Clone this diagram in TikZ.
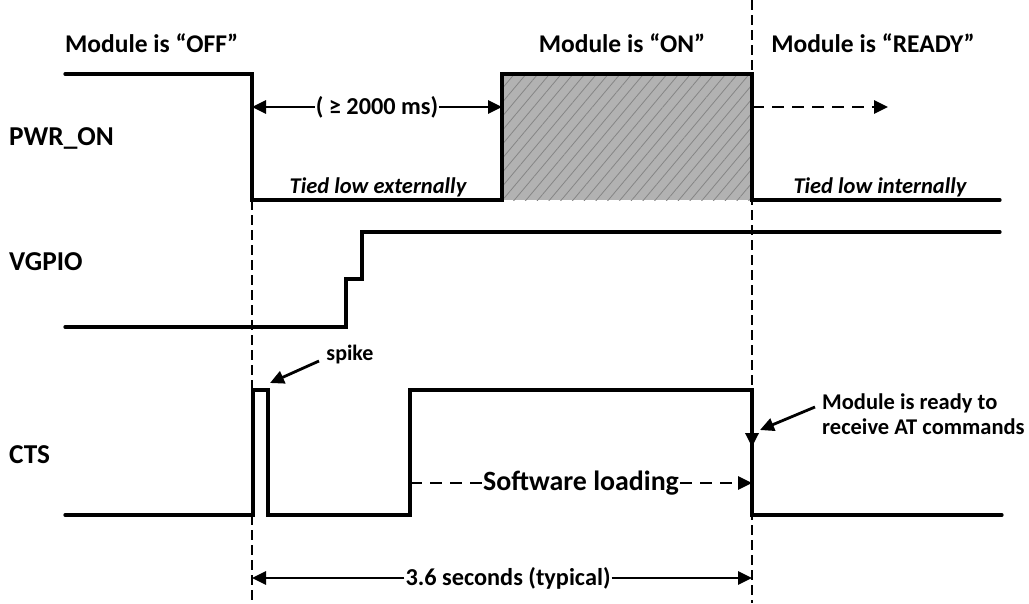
\documentclass[tikz,border=0pt]{standalone}
\usepackage{fontspec}
\setmainfont{Carlito}
\usetikzlibrary{arrows.meta,patterns.meta}
\definecolor{boxfill}{HTML}{B2B2B2}
\definecolor{hatch}{HTML}{858585}
\begin{document}
\begin{tikzpicture}[x=1pt,y=-1pt,
  signal/.style={line width=3.3pt,line cap=round,line join=miter},
  guide/.style={line width=1.2pt,dash pattern=on 10pt off 5pt},
  tip/.style={-{Triangle[length=14pt,width=13pt]}},
  dimline/.style={line width=2.8pt,tip},
  dashline/.style={line width=2.8pt,dash pattern=on 12pt off 8pt,tip},
  title/.style={font=\bfseries\fontsize{25.5}{30}\selectfont,inner sep=0pt},
  siglabel/.style={font=\bfseries\fontsize{27.3}{32}\selectfont,anchor=west,inner sep=0pt},
  note/.style={font=\bfseries\itshape\fontsize{22.5}{26}\selectfont,inner sep=0pt},
  dimtext/.style={font=\bfseries\fontsize{24.3}{28}\selectfont,inner sep=1pt}]
\useasboundingbox (0,0) rectangle (1029,603);

% state headers
\node[title,anchor=west] (off) at (65,43) {Module is “OFF”};
\node[title] (on) at (622,43) {Module is “ON”};
\node[title] (ready) at (873,43) {Module is “READY”};

% signal names
\node[siglabel] (lpwr) at (9,138) {PWR\_ON};
\node[siglabel] (lvgpio) at (9,262) {VGPIO};
\node[siglabel] (lcts) at (9,455) {CTS};

% hatched "ON" interval of PWR_ON
\fill[boxfill,postaction={pattern={Lines[angle=50,distance=9pt,line width=0.8pt]},pattern color=hatch}]
  (502,74) rectangle (752,200);

% time markers
\draw[guide] (252,200) -- (252,603);
\draw[guide] (752,0) -- (752,603);

% PWR_ON
\coordinate (p0) at (65,74);
\coordinate (p1) at (252,74);
\coordinate (p2) at (252,200);
\coordinate (p3) at (502,200);
\coordinate (p4) at (502,74);
\coordinate (p5) at (752,74);
\coordinate (p6) at (752,200);
\coordinate (p7) at (1000,200);
\draw[signal] (p0) -- (p1) -- (p2) -- (p3) -- (p4) -- (p5) -- (p6) -- (p7);

% VGPIO
\coordinate (v0) at (65,327);
\coordinate (v1) at (346,327);
\coordinate (v2) at (346,279);
\coordinate (v3) at (362,279);
\coordinate (v4) at (362,232);
\coordinate (v5) at (1000,232);
\draw[signal] (v0) -- (v1) -- (v2) -- (v3) -- (v4) -- (v5);

% CTS
\coordinate (c0) at (65,515);
\coordinate (c1) at (253,515);
\coordinate (c2) at (253,390);
\coordinate (c3) at (268,390);
\coordinate (c4) at (268,515);
\coordinate (c5) at (410,515);
\coordinate (c6) at (410,390);
\coordinate (c7) at (752,390);
\coordinate (c8) at (752,515);
\coordinate (c9) at (1002,515);
\coordinate (cdown) at (752,447);
\draw[signal] (c0) -- (c1) -- (c2) -- (c3) -- (c4) -- (c5) -- (c6) -- (c7) -- (c8) -- (c9);
\draw[line width=3.3pt,tip] (c7) -- (cdown);

% PWR_ON annotations
\node[dimtext] (t2000) at (377,107) {( ≥ 2000 ms)};
\coordinate (a2000l) at (252,107);
\coordinate (a2000r) at (502,107);
\draw[dimline] (t2000) -- (a2000l);
\draw[dimline] (t2000) -- (a2000r);
\coordinate (rdy0) at (752,107);
\coordinate (rdy1) at (888,107);
\draw[dashline] (rdy0) -- (rdy1);
\node[note] (ext) at (378,187) {Tied low externally};
\node[note] (int) at (880,187) {Tied low internally};

% CTS annotations
\node[font=\bfseries\fontsize{22}{26}\selectfont,inner sep=0pt] (spike) at (350,355) {spike};
\coordinate (spikefrom) at (319,361);
\coordinate (spiketip) at (270,383);
\draw[line width=2.8pt,tip] (spikefrom) -- (spiketip);

\node[font=\bfseries\fontsize{22.5}{25}\selectfont,align=left,anchor=west,inner sep=0pt] (rdytext) at (822,414)
  {Module is ready to\\receive AT commands};
\coordinate (rdyfrom) at (815,407);
\coordinate (rdytip) at (760,430);
\draw[line width=2.8pt,tip] (rdyfrom) -- (rdytip);

\node[font=\bfseries\fontsize{27.9}{32}\selectfont,inner sep=1pt] (sw) at (581,483) {Software loading};
\coordinate (sw0) at (410,483);
\coordinate (sw1) at (752,483);
\draw[line width=2.8pt,dash pattern=on 12pt off 8pt] (sw0) -- (sw);
\draw[dashline] (sw) -- (sw1);

% overall duration
\node[dimtext] (t36) at (508,578) {3.6 seconds (typical)};
\coordinate (d0) at (252,578);
\coordinate (d1) at (752,578);
\draw[dimline] (t36) -- (d0);
\draw[dimline] (t36) -- (d1);
\end{tikzpicture}
\end{document}
